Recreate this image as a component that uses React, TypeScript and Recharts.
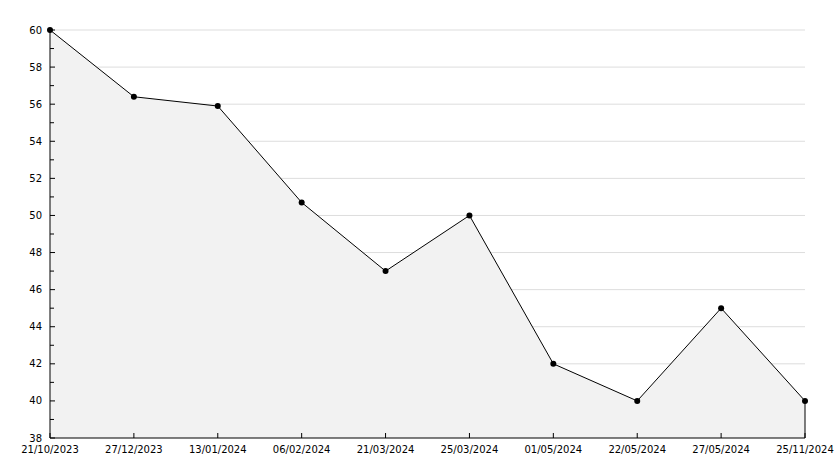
import { AreaChart, Area, XAxis, YAxis, CartesianGrid, ReferenceLine } from 'recharts';

const dates = [
  '21/10/2023', '27/12/2023', '13/01/2024', '06/02/2024', '21/03/2024',
  '25/03/2024', '01/05/2024', '22/05/2024', '27/05/2024', '25/11/2024',
];
const values = [60, 56.4, 55.9, 50.7, 47, 50, 42, 40, 45, 40];
const yTicks = [38, 39, 40, 41, 42, 43, 44, 45, 46, 47, 48, 49, 50, 51, 52, 53, 54, 55, 56, 57, 58, 59, 60];
const gridValues = [40, 42, 44, 46, 48, 50, 52, 54, 56, 58, 60];
const Y_MIN = 38;
const Y_MAX = 60;

const data = dates.map((d, i) => ({ date: d, value: values[i] }));

const FONT = '"DejaVu Sans", Verdana, sans-serif';

function YTick({ x, y, payload }: any) {
  const axisX = x + 8;
  const major = payload.value % 2 === 0;
  return (
    <g>
      <line x1={axisX} x2={axisX + (major ? 5 : 4)} y1={y} y2={y} stroke="#000" />
      {major && (
        <text x={x} y={y} textAnchor="end" dominantBaseline="central" fontSize={10} fontFamily={FONT} fill="#000">
          {payload.value}
        </text>
      )}
    </g>
  );
}

function XTick({ x, y, payload }: any) {
  const axisY = y - 6;
  return (
    <g>
      <line x1={x} x2={x} y1={axisY} y2={axisY - 5} stroke="#000" />
      <text x={x} y={axisY + 11} textAnchor="middle" dominantBaseline="central" fontSize={10} fontFamily={FONT} fill="#000">
        {payload.value}
      </text>
    </g>
  );
}

// grid only on the labelled (even) values, mapped with the same linear domain as the Y axis
const gridRows = ({ offset }: any) =>
  gridValues.map((v) => offset.top + (offset.height * (Y_MAX - v)) / (Y_MAX - Y_MIN));

export default function App() {
  const last = dates[dates.length - 1];
  return (
    <div style={{ position: 'absolute', left: 0, top: 0, background: '#fff' }}>
      <AreaChart width={834} height={468} data={data} margin={{ top: 30, right: 29, bottom: 0, left: 0 }}>
        <CartesianGrid vertical={false} stroke="#dddddd" horizontalCoordinatesGenerator={gridRows} />
        <XAxis
          dataKey="date"
          height={30}
          tickSize={0}
          tickMargin={6}
          interval={0}
          stroke="#000"
          tick={<XTick />}
        />
        <YAxis
          width={50}
          domain={[Y_MIN, Y_MAX]}
          ticks={yTicks}
          interval={0}
          tickSize={0}
          tickMargin={8}
          stroke="#000"
          tick={<YTick />}
        />
        <Area
          type="linear"
          dataKey="value"
          stroke="#000"
          strokeWidth={1}
          fill="#f2f2f2"
          fillOpacity={1}
          isAnimationActive={false}
          dot={({ cx, cy, index }: any) => <circle key={index} cx={cx} cy={cy} r={3} fill="#000" />}
          activeDot={false}
        />
        <ReferenceLine
          segment={[
            { x: last, y: Y_MIN },
            { x: last, y: values[values.length - 1] },
          ]}
          stroke="#000"
        />
      </AreaChart>
    </div>
  );
}
